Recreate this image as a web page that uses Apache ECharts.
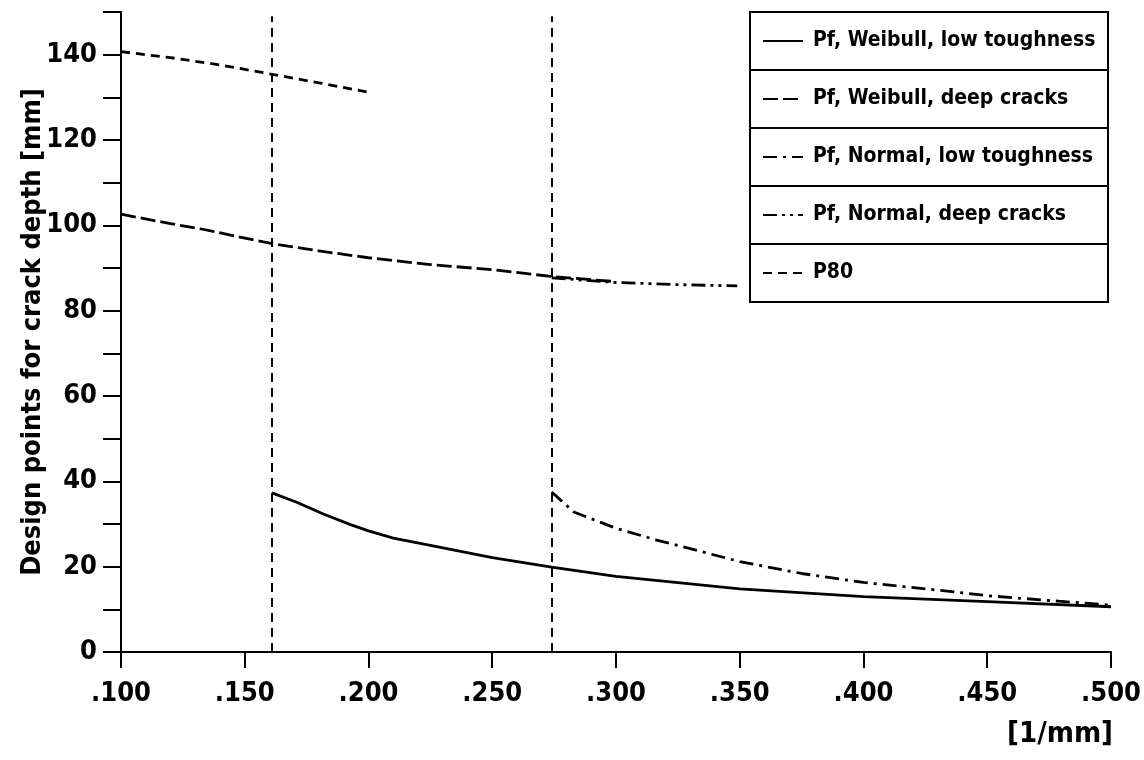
<!DOCTYPE html>
<html>
<head>
<meta charset="utf-8">
<script src="https://cdn.jsdelivr.net/npm/echarts@6/dist/echarts.min.js"></script>
<style>
  html, body { margin: 0; padding: 0; background: #fff; }
  #chart { width: 1144px; height: 760px; }
</style>
</head>
<body>
<div id="chart"></div>
<script>
// values
const weibullLowX = [0.161, 0.171, 0.182, 0.193, 0.2, 0.21, 0.225, 0.25, 0.274, 0.3, 0.35, 0.4, 0.45, 0.5]
const weibullLowY = [37.3, 35.1, 32.3, 29.8, 28.4, 26.7, 25.0, 22.1, 19.9, 17.7, 14.8, 13.0, 11.8, 10.6]

const weibullDeepX = [0.1, 0.12, 0.132, 0.161, 0.18, 0.2, 0.225, 0.25, 0.274, 0.3]
const weibullDeepY = [102.6, 100.4, 99.2, 95.7, 94.0, 92.4, 90.8, 89.6, 88.0, 86.8]

const normalLowX = [0.274, 0.283, 0.3, 0.316, 0.35, 0.375, 0.4, 0.43, 0.45, 0.479, 0.5]
const normalLowY = [37.5, 32.8, 29.0, 26.3, 21.2, 18.4, 16.3, 14.5, 13.2, 11.9, 11.0]

const normalDeepX = [0.274, 0.3, 0.325, 0.349]
const normalDeepY = [87.7, 86.6, 86.1, 85.8]

const p80X = [0.1, 0.12, 0.14, 0.161, 0.18, 0.2]
const p80Y = [140.7, 139.3, 137.6, 135.4, 133.4, 131.2]

// vertical dashed cut-off lines
const cutoffX = [0.161, 0.274]
const cutoffTop = 149

const seriesNames = [
  'Pf, Weibull, low toughness',
  'Pf, Weibull, deep cracks',
  'Pf, Normal, low toughness',
  'Pf, Normal, deep cracks',
  'P80'
]

const FONT = '"DejaVu Sans Condensed", "Liberation Sans", sans-serif'

const zip = (xs, ys) => xs.map((x, i) => [x, ys[i]])

function lineSeries(name, xs, ys, dash) {
  return {
    name,
    type: 'line',
    data: zip(xs, ys),
    symbol: 'none',
    smooth: false,
    animation: false,
    lineStyle: { color: '#000', width: 2.8, type: dash, cap: 'butt' },
    itemStyle: { color: '#000' }
  }
}

const chart = echarts.init(document.getElementById('chart'))

const series = [
  lineSeries(seriesNames[0], weibullLowX, weibullLowY, 'solid'),
  lineSeries(seriesNames[1], weibullDeepX, weibullDeepY, [15, 5]),
  lineSeries(seriesNames[2], normalLowX, normalLowY, [14, 6, 3, 6]),
  lineSeries(seriesNames[3], normalDeepX, normalDeepY, [14, 5, 3, 5, 3, 5]),
  lineSeries(seriesNames[4], p80X, p80Y, [9, 6])
]

// cut-off lines drawn on the P80 series
series[4].markLine = {
  silent: true,
  symbol: 'none',
  label: { show: false },
  animation: false,
  lineStyle: { color: '#000', width: 2, type: [9, 6] },
  data: cutoffX.map(x => [{ coord: [x, 0] }, { coord: [x, cutoffTop] }])
}

const legendBox = { x: 750, y: 12, w: 358, rowH: 58 }

const option = {
  backgroundColor: '#fff',
  animation: false,
  grid: { left: 121, right: 33, top: 12, bottom: 108, containLabel: false, outerBoundsMode: 'none' },
  legend: {
    orient: 'vertical',
    left: 762,
    top: 29,
    padding: 0,
    itemWidth: 40,
    itemHeight: 14,
    itemGap: 34,
    data: seriesNames,
    selectedMode: false,
    itemStyle: { opacity: 0 },
    textStyle: {
      fontFamily: FONT, fontWeight: 'bold', fontSize: 21, color: '#000',
      lineHeight: 24, padding: [0, 0, 0, 5]
    }
  },
  xAxis: {
    type: 'value',
    min: 0.1,
    max: 0.5,
    interval: 0.05,
    name: '[1/mm]',
    nameLocation: 'end',
    nameGap: 2,
    nameMoveOverlap: false,
    nameTextStyle: {
      fontFamily: FONT, fontWeight: 'bold', fontSize: 29, color: '#000',
      align: 'right', verticalAlign: 'top', padding: [68, 0, 0, 0]
    },
    axisLine: { show: true, onZero: false, lineStyle: { color: '#000', width: 2 } },
    axisTick: { show: true, length: 16, lineStyle: { color: '#000', width: 2 } },
    splitLine: { show: false },
    axisLabel: {
      margin: 28,
      fontFamily: FONT, fontWeight: 'bold', fontSize: 27, color: '#000',
      formatter: v => v.toFixed(3).replace(/^0/, '')
    }
  },
  yAxis: {
    type: 'value',
    min: 0,
    max: 150,
    interval: 10,
    name: 'Design points for crack depth [mm]',
    nameLocation: 'middle',
    nameGap: 75,
    nameMoveOverlap: false,
    nameTextStyle: { fontFamily: FONT, fontWeight: 'bold', fontSize: 27, color: '#000' },
    axisLine: { show: true, onZero: false, lineStyle: { color: '#000', width: 2 } },
    axisTick: { show: true, length: 18, lineStyle: { color: '#000', width: 2 } },
    splitLine: { show: false },
    axisLabel: {
      margin: 24,
      fontFamily: FONT, fontWeight: 'bold', fontSize: 27, color: '#000',
      formatter: v => (v % 20 === 0 ? String(v) : '')
    }
  },
  graphic: [
    {
      type: 'rect',
      silent: true,
      shape: { x: legendBox.x, y: legendBox.y, width: legendBox.w, height: legendBox.rowH * 5 },
      style: { fill: 'none', stroke: '#000', lineWidth: 2 },
      z: 10
    },
    ...[1, 2, 3, 4].map(i => ({
      type: 'line',
      silent: true,
      shape: {
        x1: legendBox.x, y1: legendBox.y + legendBox.rowH * i,
        x2: legendBox.x + legendBox.w, y2: legendBox.y + legendBox.rowH * i
      },
      style: { stroke: '#000', lineWidth: 2 },
      z: 10
    }))
  ],
  series
}

chart.setOption(option)
</script>
</body>
</html>
